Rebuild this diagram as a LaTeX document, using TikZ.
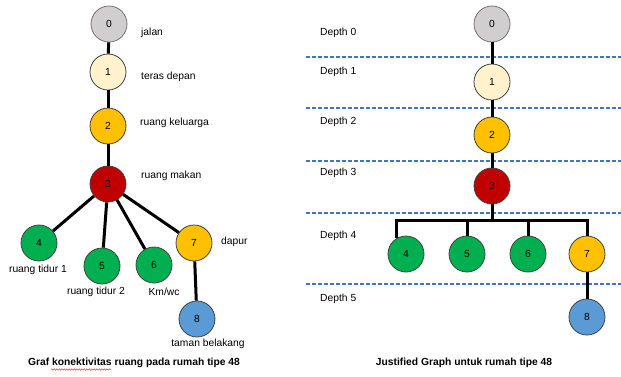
\documentclass[tikz,border=0pt]{standalone}
\usepackage{fontspec}
\setmainfont{Liberation Sans}
\usetikzlibrary{positioning, calc, decorations.pathmorphing}

\definecolor{rmgray}{HTML}{D0CECE}
\definecolor{rmcream}{HTML}{FFF2CC}
\definecolor{rmamber}{HTML}{FFC000}
\definecolor{rmred}{HTML}{C00000}
\definecolor{rmgreen}{HTML}{00B050}
\definecolor{rmblue}{HTML}{5B9BD5}
\definecolor{depthblue}{HTML}{4472C4}

\begin{document}
\begin{tikzpicture}[
    x=1pt, y=1pt,
    font=\fontsize{10.3}{12}\selectfont,
    room/.style={circle, draw=black!75, line width=0.8pt, minimum size=36pt, inner sep=0pt},
    edge/.style={line width=3pt, black},
    lbl/.style={inner sep=0pt},
    depthline/.style={depthblue, line width=1.2pt, dash pattern=on 4pt off 2pt},
    caption/.style={inner sep=0pt, font=\fontsize{10.3}{12}\selectfont\bfseries}
]
    \useasboundingbox (0,0) rectangle (621,-376);

    % left: connectivity graph
    \node[room, fill=rmgray, draw=black!55] (a0) at (109,-24) {0};
    \node[room, fill=rmcream] (a1) at (108,-72) {1};
    \node[room, fill=rmamber] (a2) at (108,-126) {2};
    \node[room, fill=rmred] (a3) at (108,-184) {3};
    \node[room, fill=rmgreen] (a4) at (39,-243) {4};
    \node[room, fill=rmgreen] (a5) at (102,-266) {5};
    \node[room, fill=rmgreen] (a6) at (154,-265) {6};
    \node[room, fill=rmamber] (a7) at (194,-243) {7};
    \node[room, fill=rmblue] (a8) at (197,-319) {8};

    \node[lbl, anchor=west] (l0) at (141,-33) {jalan};
    \node[lbl, anchor=west] (l1) at (141,-77) {teras depan};
    \node[lbl, anchor=west] (l2) at (140,-123) {ruang keluarga};
    \node[lbl, anchor=west] (l3) at (141,-176) {ruang makan};
    \node[lbl] (l4) at (38,-270) {ruang tidur 1};
    \node[lbl] (l5) at (96,-292) {ruang tidur 2};
    \node[lbl] (l6) at (164,-292) {Km/wc};
    \node[lbl, anchor=west] (l7) at (221,-242) {dapur};
    \node[lbl] (l8) at (208,-344) {taman belakang};

    \draw[edge] (a0) -- (a1);
    \draw[edge] (a1) -- (a2);
    \draw[edge] (a2) -- (a3);
    \draw[edge] (a3) -- (a4);
    \draw[edge] (a3) -- (a5);
    \draw[edge] (a3) -- (a6);
    \draw[edge] (a3) -- (a7);
    \draw[edge] (a7) -- (a8);

    \node[caption] (capA) at (134,-363) {Graf konektivitas ruang pada rumah tipe 48};
    \draw[red!80, line width=0.5pt, decorate, decoration={snake, amplitude=0.7pt, segment length=2.5pt}]
        (51,-369.5) -- (111,-369.5);

    % right: justified graph
    \foreach \y in {57,108,161,213,284}
        \draw[depthline] (306,-\y) -- (621,-\y);

    \node[lbl, anchor=west] (d0) at (320,-33) {Depth 0};
    \node[lbl, anchor=west] (d1) at (320,-72) {Depth 1};
    \node[lbl, anchor=west] (d2) at (320,-122) {Depth 2};
    \node[lbl, anchor=west] (d3) at (320,-173) {Depth 3};
    \node[lbl, anchor=west] (d4) at (320,-236) {Depth 4};
    \node[lbl, anchor=west] (d5) at (320,-299) {Depth 5};

    \node[room, fill=rmgray, draw=black!55] (b0) at (492,-24) {0};
    \node[room, fill=rmcream] (b1) at (492,-82) {1};
    \node[room, fill=rmamber] (b2) at (492,-135) {2};
    \node[room, fill=rmred] (b3) at (492,-186) {3};
    \node[room, fill=rmgreen] (b4) at (406,-254) {4};
    \node[room, fill=rmgreen] (b5) at (467,-254) {5};
    \node[room, fill=rmgreen] (b6) at (528,-254) {6};
    \node[room, fill=rmamber] (b7) at (587,-254) {7};
    \node[room, fill=rmblue] (b8) at (587,-317) {8};
    \coordinate (bus) at (492,-220);

    \draw[edge] (b0) -- (b1);
    \draw[edge] (b1) -- (b2);
    \draw[edge] (b2) -- (b3);
    \draw[edge] (b3) -- (b3 |- bus);
    \draw[edge] (b4.120) -- (b4.120 |- bus) -- (b7.north |- bus) -- (b7.north);
    \draw[edge] (b5.north) -- (b5.north |- bus);
    \draw[edge] (b6.north) -- (b6.north |- bus);
    \draw[edge] (b7) -- (b8);

    \node[caption] (capB) at (464,-363) {Justified Graph untuk rumah tipe 48};
\end{tikzpicture}
\end{document}
